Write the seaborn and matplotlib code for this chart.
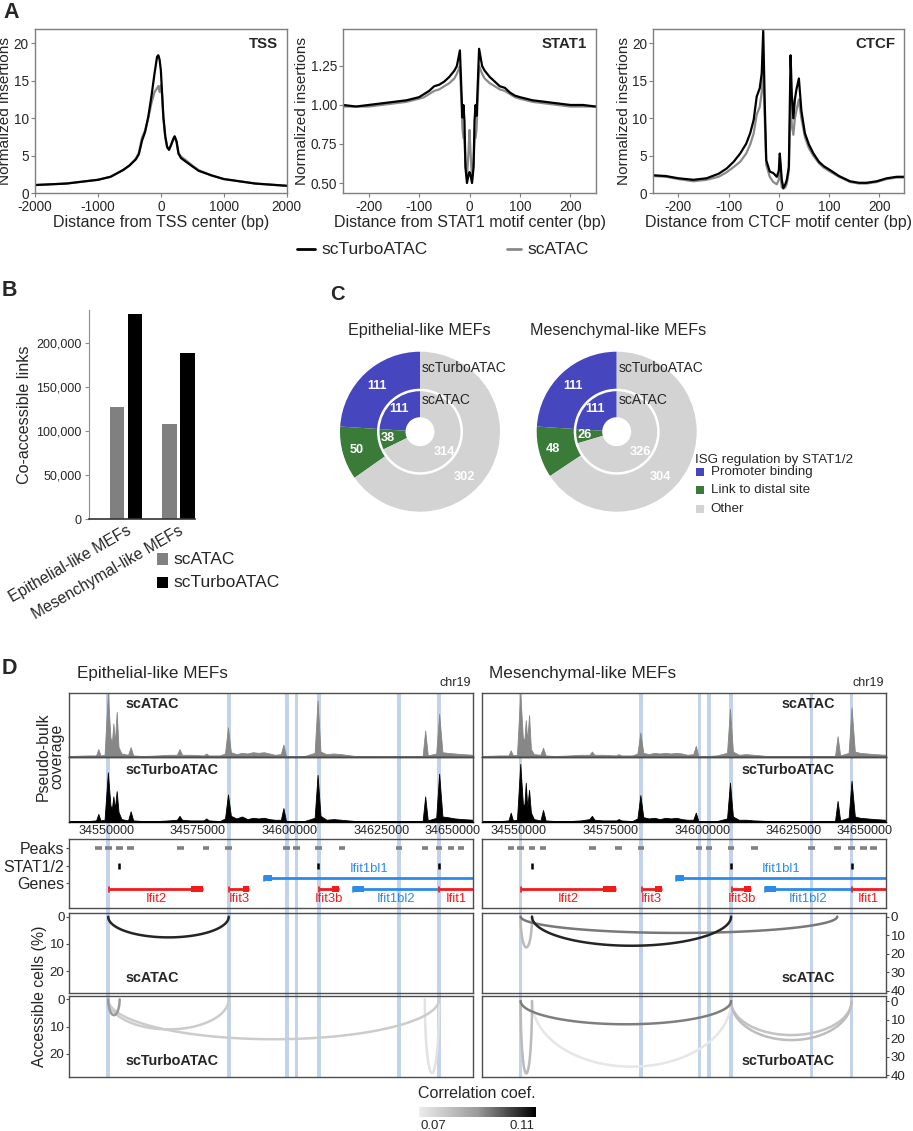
import numpy as np
import pandas as pd
import matplotlib
matplotlib.use('Agg')
import matplotlib.pyplot as plt
import seaborn as sns
from matplotlib.colors import LinearSegmentedColormap, Normalize
from matplotlib.cm import ScalarMappable
from matplotlib.lines import Line2D
from matplotlib.patches import Rectangle
from matplotlib.ticker import FuncFormatter
from matplotlib.transforms import offset_copy

# ---------------- data ----------------
# A: aggregate insertion profiles
tss_x = [-2000, -1500, -1000, -800, -600, -500, -400, -350, -300, -250,
         -200, -150, -100, -60, -40, -20, 0, 20, 40, 70,
         100, 130, 160, 200, 220, 250, 280, 320, 400, 500,
         600, 800, 1000, 1500, 2000]
tss_turbo = [1.1, 1.3, 1.8, 2.2, 3.1, 3.7, 4.5, 5.2, 7.0, 8.2,
             10.2, 12.9, 16.0, 18.2, 18.4, 17.8, 16.4, 13.3, 10.2, 7.6,
             6.2, 5.8, 6.4, 7.3, 7.6, 6.9, 5.3, 4.7, 4.2, 3.6,
             3.0, 2.4, 1.9, 1.3, 1.0]
tss_sc = [1.1, 1.3, 1.8, 2.2, 3.1, 3.7, 4.6, 5.4, 7.4, 8.4,
          10.0, 12.0, 13.5, 14.0, 14.3, 13.5, 14.4, 13.0, 10.0, 7.5,
          6.1, 5.8, 6.4, 7.2, 7.5, 6.8, 5.4, 4.9, 4.4, 3.7,
          3.1, 2.4, 1.9, 1.3, 1.0]

stat_x = [-250, -225, -200, -175, -150, -125, -100, -90, -80, -70,
          -60, -50, -40, -30, -25, -19, -14, -12, -10, -8,
          -5, -2, 0, 2, 5, 8, 10, 12, 14, 19,
          25, 30, 40, 50, 60, 70, 80, 90, 100, 125,
          150, 175, 200, 225, 250]
stat_turbo = [1.00, 0.99, 1.00, 1.01, 1.02, 1.03, 1.05, 1.07, 1.09, 1.12,
              1.13, 1.15, 1.18, 1.22, 1.25, 1.35, 0.92, 1.00, 0.90, 0.60,
              0.50, 0.55, 0.57, 0.55, 0.50, 0.60, 0.90, 1.00, 0.93, 1.36,
              1.25, 1.22, 1.18, 1.15, 1.12, 1.11, 1.08, 1.06, 1.05, 1.03,
              1.02, 1.01, 1.00, 1.00, 0.99]
stat_sc = [0.99, 0.99, 0.99, 1.00, 1.01, 1.02, 1.04, 1.05, 1.07, 1.09,
           1.10, 1.12, 1.14, 1.17, 1.20, 1.25, 0.85, 0.79, 0.78, 0.62,
           0.53, 0.70, 0.84, 0.70, 0.53, 0.62, 0.78, 0.79, 0.85, 1.25,
           1.20, 1.17, 1.14, 1.12, 1.10, 1.09, 1.07, 1.05, 1.04, 1.02,
           1.01, 1.00, 0.99, 0.99, 0.99]

ctcf_x = [-250, -225, -200, -170, -144, -120, -104, -90, -77, -65,
          -57, -50, -44, -38, -34, -31, -28, -25, -18, -11,
          -4, 0, 2, 4, 6, 9, 13, 16, 20, 23.5,
          26, 29, 32, 35, 40, 45, 52, 60, 69, 80,
          90, 102, 120, 142, 160, 175, 195, 215, 235, 250]
ctcf_turbo = [2.4, 2.3, 2.0, 1.8, 2.0, 2.6, 3.3, 4.2, 5.3, 6.6,
              8.0, 9.8, 12.9, 14.0, 16.0, 21.7, 12.0, 4.4, 2.9, 2.7,
              2.2, 3.0, 5.3, 3.5, 1.8, 0.7, 1.2, 1.8, 3.5, 18.4,
              13.0, 10.0, 12.5, 13.8, 15.3, 11.0, 8.0, 6.5, 5.3, 4.2,
              3.6, 3.1, 2.3, 1.6, 1.4, 1.4, 1.6, 2.0, 2.2, 2.2]
ctcf_sc = [2.3, 2.2, 1.9, 1.6, 1.8, 2.2, 2.8, 3.5, 4.2, 5.3,
           6.5, 8.0, 10.5, 11.5, 13.5, 16.2, 10.0, 3.8, 2.2, 1.5,
           1.2, 1.8, 4.8, 2.0, 0.8, 0.6, 0.8, 1.3, 3.0, 12.5,
           9.0, 7.8, 10.0, 11.0, 12.5, 10.0, 7.5, 6.0, 5.0, 4.0,
           3.4, 2.9, 2.2, 1.5, 1.3, 1.3, 1.5, 1.9, 2.1, 2.1]

# B: co-accessible links
b_groups = ['Epithelial-like MEFs', 'Mesenchymal-like MEFs']
b_sc = [127000, 108000]
b_turbo = [234000, 189000]

# C: ISG regulation (outer ring scTurboATAC, inner ring scATAC)
c_categories = ['Promoter binding', 'Link to distal site', 'Other']
c_colors = ['#4646BE', '#3A7B3A', '#D3D3D3']
epi_outer = [111, 50, 302]
epi_inner = [111, 38, 314]
mes_outer = [111, 48, 304]
mes_inner = [111, 26, 326]

# D: genome browser, positions in kb from chr19:34,540,000
ORIGIN = 34540000
cov_kb = [0, 5, 7.3, 7.9, 8.5, 9.6, 10.5, 11.2, 11.6, 12.0,
          12.4, 12.9, 13.4, 14.2, 16.0, 16.7, 17.4, 20, 24, 27,
          29.3, 30.0, 30.7, 33, 36.6, 37.3, 38.0, 41, 42.4, 43.2,
          44.0, 45.5, 47, 48.5, 50, 51.5, 53, 54.5, 56, 57.6,
          58.3, 59.0, 61, 64, 66.8, 67.6, 68.4, 70, 72, 74,
          78, 85, 92, 96.2, 96.9, 97.6, 99.9, 100.7, 101.6, 103,
          105, 107, 110]
epi_cov_sc = [0.01, 0.02, 0.02, 0.12, 0.02, 0.03, 0.99, 0.30, 0.22, 0.52,
              0.22, 0.70, 0.15, 0.05, 0.03, 0.15, 0.02, 0.01, 0.02, 0.03,
              0.03, 0.12, 0.03, 0.03, 0.02, 0.05, 0.02, 0.02, 0.05, 0.46,
              0.07, 0.04, 0.06, 0.05, 0.07, 0.06, 0.07, 0.05, 0.03, 0.04,
              0.19, 0.01, 0.01, 0.01, 0.06, 0.88, 0.08, 0.04, 0.05, 0.04,
              0.01, 0.01, 0.01, 0.01, 0.41, 0.02, 0.05, 0.67, 0.07, 0.06,
              0.05, 0.04, 0.03]
epi_cov_turbo = [0.01, 0.01, 0.02, 0.12, 0.02, 0.03, 0.76, 0.25, 0.20, 0.39,
                 0.20, 0.47, 0.15, 0.04, 0.02, 0.16, 0.02, 0.01, 0.01, 0.02,
                 0.03, 0.09, 0.03, 0.02, 0.02, 0.05, 0.02, 0.01, 0.05, 0.42,
                 0.09, 0.05, 0.08, 0.04, 0.06, 0.05, 0.06, 0.04, 0.03, 0.03,
                 0.21, 0.01, 0.01, 0.01, 0.06, 0.72, 0.09, 0.03, 0.04, 0.03,
                 0.01, 0.01, 0.01, 0.01, 0.39, 0.02, 0.06, 0.74, 0.08, 0.07,
                 0.05, 0.04, 0.03]
mes_cov_sc = [0.01, 0.02, 0.02, 0.10, 0.02, 0.03, 0.99, 0.30, 0.25, 0.57,
              0.25, 0.65, 0.12, 0.04, 0.03, 0.14, 0.02, 0.01, 0.02, 0.03,
              0.03, 0.08, 0.03, 0.03, 0.02, 0.04, 0.02, 0.02, 0.05, 0.38,
              0.06, 0.04, 0.06, 0.05, 0.06, 0.05, 0.06, 0.05, 0.03, 0.04,
              0.17, 0.01, 0.01, 0.02, 0.06, 0.75, 0.08, 0.03, 0.04, 0.03,
              0.01, 0.01, 0.01, 0.01, 0.32, 0.02, 0.06, 0.77, 0.08, 0.06,
              0.05, 0.04, 0.03]
mes_cov_turbo = [0.01, 0.01, 0.02, 0.14, 0.02, 0.03, 0.89, 0.28, 0.24, 0.60,
                 0.22, 0.49, 0.14, 0.04, 0.02, 0.18, 0.02, 0.01, 0.01, 0.02,
                 0.04, 0.09, 0.03, 0.02, 0.02, 0.04, 0.02, 0.01, 0.05, 0.41,
                 0.07, 0.05, 0.06, 0.04, 0.06, 0.05, 0.06, 0.04, 0.03, 0.03,
                 0.14, 0.01, 0.01, 0.01, 0.05, 0.60, 0.08, 0.03, 0.03, 0.02,
                 0.01, 0.01, 0.01, 0.01, 0.32, 0.02, 0.06, 0.63, 0.08, 0.06,
                 0.05, 0.04, 0.03]

highlight_kb = [10.6, 43.4, 59.3, 61.9, 67.9, 89.8, 100.7]
peak_kb = [8.0, 10.6, 13.7, 16.7, 30.2, 37.2, 43.4, 59.2, 61.9, 67.9,
           74.2, 89.8, 96.8, 100.7, 103.9, 106.6]
stat_kb = [13.6, 67.8, 100.7]

gene_names = ['Ifit2', 'Ifit3', 'Ifit3b', 'Ifit1bl2', 'Ifit1', 'Ifit1bl1']
gene_start = [10.8, 43.6, 68.1, 77.2, 100.7, 53.0]
gene_end = [36.5, 49.0, 73.4, 100.7, 118.0, 118.0]
gene_thick_start = [33.1, 47.2, 71.4, 77.2, 112.0, 53.0]
gene_thick_end = [36.5, 49.0, 73.4, 80.2, 118.0, 55.1]
gene_row = [1, 1, 1, 1, 1, 0]
gene_color = ['#F21B1B', '#F21B1B', '#F21B1B', '#2A8BEA', '#F21B1B', '#2A8BEA']

# co-accessibility arcs: start kb, end kb, accessible cells (%), correlation
epi_sc_arcs = dict(start=[10.6], end=[43.4], depth=[7.6], corr=[0.110])
epi_turbo_arcs = dict(start=[10.6, 10.6, 10.6, 96.8], end=[13.7, 43.4, 100.7, 100.7],
                      depth=[5.8, 11.0, 14.6, 27.0], corr=[0.090, 0.074, 0.074, 0.067])
mes_sc_arcs = dict(start=[10.6, 10.6, 13.7], end=[13.7, 96.8, 67.9],
                   depth=[16.6, 8.8, 15.7], corr=[0.080, 0.096, 0.110])
mes_turbo_arcs = dict(start=[10.6, 10.6, 13.7, 67.9, 67.9], end=[13.7, 67.9, 67.9, 100.7, 100.7],
                      depth=[38.9, 12.5, 35.3, 21.0, 18.3], corr=[0.080, 0.095, 0.066, 0.079, 0.077])

# ---------------- style / helpers ----------------
W, H = 913, 1131
sns.set_style('ticks')
plt.rcParams['font.family'] = ['Liberation Sans', 'DejaVu Sans']
plt.rcParams['axes.unicode_minus'] = False

GRAY_LINE = '#8a8a8a'
BOX = '#4d4d4d'
HILITE = '#C3D3EC'

fig = plt.figure(figsize=(W / 100, H / 100), dpi=100)


def px_axes(x0, y0, x1, y1, **kw):
    return fig.add_axes([x0 / W, 1 - y1 / H, (x1 - x0) / W, (y1 - y0) / H], **kw)


def ftext(x, y, s, **kw):
    return fig.text(x / W, 1 - y / H, s, **kw)


def fsquare(x, y, size, color):
    fig.add_artist(Rectangle((x / W, 1 - (y + size / 2) / H), size / W, size / H,
                             transform=fig.transFigure, color=color, lw=0))


# panel letters
ftext(3, 12, 'A', fontsize=15.5, fontweight='bold', va='center')
ftext(2, 291, 'B', fontsize=15.5, fontweight='bold', va='center')
ftext(330, 295, 'C', fontsize=14.5, fontweight='bold', va='center')
ftext(2, 668, 'D', fontsize=15.5, fontweight='bold', va='center')

# ---------------- Panel A ----------------
a_panels = [
    dict(x=tss_x, turbo=tss_turbo, sc=tss_sc, name='TSS', xlabel='Distance from TSS center (bp)',
         box=(35, 29, 286.7, 193.3), xlim=(-2000, 2000), ylim=(0, 21.9),
         xticks=[-2000, -1000, 0, 1000, 2000], yticks=[0, 5, 10, 15, 20], fmt='{:g}'),
    dict(x=stat_x, turbo=stat_turbo, sc=stat_sc, name='STAT1', xlabel='Distance from STAT1 motif center (bp)',
         box=(343.3, 29, 595.7, 193.3), xlim=(-250, 250), ylim=(0.434, 1.487),
         xticks=[-200, -100, 0, 100, 200], yticks=[0.5, 0.75, 1.0, 1.25], fmt='{:.2f}'),
    dict(x=ctcf_x, turbo=ctcf_turbo, sc=ctcf_sc, name='CTCF', xlabel='Distance from CTCF motif center (bp)',
         box=(653.3, 29, 904.3, 193.3), xlim=(-250, 250), ylim=(0, 21.9),
         xticks=[-200, -100, 0, 100, 200], yticks=[0, 5, 10, 15, 20], fmt='{:g}'),
]
for p in a_panels:
    ax = px_axes(*p['box'])
    n = len(p['x'])
    df = pd.DataFrame({'pos': list(p['x']) * 2,
                       'ins': list(p['sc']) + list(p['turbo']),
                       'method': ['scATAC'] * n + ['scTurboATAC'] * n})
    sns.lineplot(data=df, x='pos', y='ins', hue='method', hue_order=['scATAC', 'scTurboATAC'],
                 palette=[GRAY_LINE, 'black'], linewidth=1.6, estimator=None, legend=False, ax=ax)
    ax.set_xlim(p['xlim'])
    ax.set_ylim(p['ylim'])
    ax.set_xticks(p['xticks'])
    ax.set_yticks(p['yticks'])
    ax.set_yticklabels([p['fmt'].format(v) for v in p['yticks']])
    ax.set_xlabel(p['xlabel'], fontsize=11.5, labelpad=1)
    ax.set_ylabel('Normalized insertions', fontsize=11.1, labelpad=1)
    for s in ax.spines.values():
        s.set_color('#7f7f7f')
        s.set_linewidth(1)
    ax.tick_params(length=3, width=0.8, color='#7f7f7f', labelsize=9.8, pad=1.5)
    ftext(p['box'][2] - 9, 44.3, p['name'], ha='right', va='center', fontsize=10.8, fontweight='bold')

fig.add_artist(Line2D([297 / W, 315 / W], [1 - 249 / H] * 2, color='black', lw=2))
ftext(321, 249, 'scTurboATAC', fontsize=12.5, va='center')
fig.add_artist(Line2D([507 / W, 521 / W], [1 - 249 / H] * 2, color=GRAY_LINE, lw=2))
ftext(527, 249, 'scATAC', fontsize=12.5, va='center')

# ---------------- Panel B ----------------
axb = px_axes(88.7, 310, 195, 519)
dfb = pd.DataFrame({'cells': b_groups * 2,
                    'method': ['scATAC'] * len(b_groups) + ['scTurboATAC'] * len(b_groups),
                    'links': b_sc + b_turbo})
sns.barplot(data=dfb, x='cells', y='links', hue='method', hue_order=['scATAC', 'scTurboATAC'],
            palette=['#808080', 'black'], saturation=1, width=0.68, gap=0.2,
            errorbar=None, legend=False, linewidth=0, ax=axb)
axb.set_xlim(-0.71, 1.314)
axb.set_ylim(0, 238000)
axb.set_yticks([0, 50000, 100000, 150000, 200000])
axb.yaxis.set_major_formatter(FuncFormatter(lambda v, _: f'{int(v):,}'))
axb.set_xlabel('')
axb.set_ylabel('Co-accessible links', fontsize=11.6, labelpad=3)
axb.set_xticks(range(len(b_groups)))
axb.set_xticklabels(b_groups, rotation=30, ha='right', va='top', rotation_mode='anchor', fontsize=11.3)
sns.despine(ax=axb)
axb.spines['left'].set_color('#8c8c8c')
axb.spines['bottom'].set_color('#333333')
axb.spines['bottom'].set_linewidth(1.2)
axb.tick_params(axis='y', length=3, color='#8c8c8c', labelsize=9, pad=2)
axb.tick_params(axis='x', length=0, pad=3)

fsquare(156.7, 559, 11.6, '#808080')
ftext(173.3, 559, 'scATAC', fontsize=12.5, va='center')
fsquare(156.7, 582.5, 11.6, 'black')
ftext(173.3, 582.5, 'scTurboATAC', fontsize=12.5, va='center')

# ---------------- Panel C ----------------
c_panels = [(420, 431.7, epi_outer, epi_inner, 'Epithelial-like MEFs', 348.3),
            (616.7, 431.7, mes_outer, mes_inner, 'Mesenchymal-like MEFs', 530)]
for cx, cy, outer, inner, title, tx in c_panels:
    axc = px_axes(cx - 85, cy - 85, cx + 85, cy + 85)
    axc.pie(outer, radius=1.0, startangle=90, counterclock=True, colors=c_colors,
            wedgeprops=dict(width=0.4625, edgecolor='none', linewidth=0))
    axc.pie(inner, radius=0.506, startangle=90, counterclock=True, colors=c_colors,
            wedgeprops=dict(width=0.325, edgecolor='none', linewidth=0))
    axc.set_xlim(-85 / 80, 85 / 80)
    axc.set_ylim(-85 / 80, 85 / 80)
    axc.axis('off')
    for vals, r_lab, gray_ang in [(outer, 0.79, -46), (inner, 0.39, -40)]:
        tot = sum(vals)
        angs = [90 + 180 * vals[0] / tot, 90 + 360 * (vals[0] + vals[1] / 2) / tot, gray_ang]
        radii = [r_lab, r_lab * 1.04, r_lab]
        for v, a, rr in zip(vals, angs, radii):
            axc.text(rr * np.cos(np.radians(a)), rr * np.sin(np.radians(a)), str(v),
                     color='white', fontsize=9.2, fontweight='bold', ha='center', va='center')
    ftext(cx + 1.7, 367.7, 'scTurboATAC', fontsize=10, va='center')
    ftext(cx + 1.7, 400, 'scATAC', fontsize=10, va='center')
    ftext(tx, 330, title, fontsize=11.6, va='center')

ftext(695, 460, 'ISG regulation by STAT1/2', fontsize=9.6, va='center')
for lab, col, yy in zip(c_categories, c_colors, [472, 490.3, 508.7]):
    fsquare(695.7, yy, 8, col)
    ftext(710.7, yy, lab, fontsize=9.6, va='center')

# ---------------- Panel D ----------------
D_XLIM = (0, 110)
cmap = LinearSegmentedColormap.from_list('corr', ['#ececec', '#9a9a9a', '#000000'])
norm = Normalize(0.0638, 0.1164)

d_panels = [
    dict(x0=69.3, x1=473.3, title='Epithelial-like MEFs', cov_sc=epi_cov_sc, cov_turbo=epi_cov_turbo,
         arcs=[epi_sc_arcs, epi_turbo_arcs], ylims=[(28, -1.5), (28.3, -1.2)], yticks=[0, 10, 20],
         side='left'),
    dict(x0=481.7, x1=885.7, title='Mesenchymal-like MEFs', cov_sc=mes_cov_sc, cov_turbo=mes_cov_turbo,
         arcs=[mes_sc_arcs, mes_turbo_arcs], ylims=[(41, -2.1), (40.7, -2.7)], yticks=[0, 10, 20, 30, 40],
         side='right'),
]

for dp in d_panels:
    x0, x1 = dp['x0'], dp['x1']
    left = dp['side'] == 'left'

    # highlighted peaks, behind every track
    bg = px_axes(x0, 692.7, x1, 1076.7)
    bg.set_xlim(D_XLIM)
    bg.set_ylim(0, 1)
    bg.axis('off')
    for hk in highlight_kb:
        bg.axvspan(hk - 0.5, hk + 0.5, color=HILITE, lw=0)

    ftext(x0 + 7.7, 673.3, dp['title'], fontsize=12.3, va='center')
    ftext(x1 - 2, 683.3, 'chr19', fontsize=9, ha='right', va='center')

    # coverage
    for (ya, yb), vals, col, name, ty in [((692.7, 756.7), dp['cov_sc'], '#878787', 'scATAC', 704),
                                          ((756.7, 821.7), dp['cov_turbo'], 'black', 'scTurboATAC', 770)]:
        axc = px_axes(x0, ya, x1, yb, facecolor='none')
        axc.fill_between(cov_kb, vals, color=col, lw=0.6, edgecolor=col)
        axc.set_xlim(D_XLIM)
        axc.set_ylim(0, 1.0)
        axc.set_xticks([])
        axc.set_yticks([])
        for s in axc.spines.values():
            s.set_color(BOX)
            s.set_linewidth(1)
        axc.spines['bottom'].set_color('black')
        if left:
            ftext(126, ty, name, fontsize=10.4, fontweight='bold', va='center')
        else:
            ftext(835, ty, name, fontsize=10.4, fontweight='bold', va='center', ha='right')
    for k in [10, 35, 60, 85, 110]:
        last = k == 110
        tr = offset_copy(axc.get_xaxis_transform(), fig=fig, x=7 if last else 0, y=-3, units='dots')
        axc.text(k, 0, f'{ORIGIN + int(round(k * 1000))}', transform=tr, fontsize=9.1,
                 ha='right' if last else 'center', va='top')

    # peaks / STAT1/2 / genes
    axg = px_axes(x0, 839.3, x1, 908, facecolor='none')
    axg.set_xlim(D_XLIM)
    axg.set_ylim(68.7, 0)
    axg.set_xticks([])
    for s in axg.spines.values():
        s.set_color(BOX)
        s.set_linewidth(1)
    if left:
        axg.set_yticks([8.4, 26.7, 43.4])
        axg.set_yticklabels(['Peaks', 'STAT1/2', 'Genes'])
        axg.tick_params(axis='y', length=2.5, color=BOX, labelsize=11.5, pad=1)
    else:
        axg.set_yticks([])
    for pk in peak_kb:
        axg.plot([pk - 0.9, pk + 0.9], [8.4, 8.4], color='#808080', lw=2.6, solid_capstyle='butt')
    for sk in stat_kb:
        axg.plot([sk, sk], [23.7, 29.7], color='black', lw=1.8, solid_capstyle='butt')
    for name, gs, ge, ts, te, row, col in zip(gene_names, gene_start, gene_end, gene_thick_start,
                                              gene_thick_end, gene_row, gene_color):
        gy = 39.0 if row == 0 else 50.0
        axg.plot([gs, ge], [gy, gy], color=col, lw=2, solid_capstyle='butt')
        axg.add_patch(Rectangle((ts, gy - 3), te - ts, 6, color=col, lw=0))
        axg.plot([gs, gs], [gy - 2.5, gy + 2.5], color=col, lw=1.2)
        vs, ve = max(gs, D_XLIM[0]), min(ge, D_XLIM[1])
        ly = 30.0 if row == 0 else 59.7
        axg.text((vs + ve) / 2, ly, name, color=col, fontsize=9.4, ha='center', va='center', clip_on=True)

    # co-accessibility arcs
    t = np.linspace(0, np.pi, 120)
    for (ya, yb), arcs, ylim, name, ty in zip([(912.7, 992.7), (996, 1076.7)], dp['arcs'], dp['ylims'],
                                               ['scATAC', 'scTurboATAC'], [977.7, 1061]):
        axa = px_axes(x0, ya, x1, yb, facecolor='none')
        axa.set_xlim(D_XLIM)
        axa.set_ylim(*ylim)
        axa.set_xticks([])
        axa.set_yticks(dp['yticks'])
        if left:
            axa.yaxis.tick_left()
        else:
            axa.yaxis.tick_right()
        axa.tick_params(axis='y', length=2.5, color=BOX, labelsize=9.6, pad=1)
        for s in axa.spines.values():
            s.set_color(BOX)
            s.set_linewidth(1)
        for i in np.argsort(arcs['corr']):
            c = (arcs['start'][i] + arcs['end'][i]) / 2
            r = (arcs['end'][i] - arcs['start'][i]) / 2
            axa.plot(c + r * np.cos(t), arcs['depth'][i] * np.sin(t),
                     color=cmap(norm(arcs['corr'][i])), lw=1.8)
        if left:
            ftext(126, ty, name, fontsize=10.4, fontweight='bold', va='center')
        else:
            ftext(835, ty, name, fontsize=10.4, fontweight='bold', va='center', ha='right')

ftext(50, 756.7, 'Pseudo-bulk\ncoverage', fontsize=11.4, rotation=90, ha='center', va='center',
      linespacing=0.95)
ftext(39.3, 996.7, 'Accessible cells (%)', fontsize=11.4, rotation=90, ha='center', va='center')

# colorbar
cax = px_axes(419.3, 1106.7, 536, 1117.3)
cb = fig.colorbar(ScalarMappable(norm=norm, cmap=cmap), cax=cax, orientation='horizontal',
                  ticks=[0.07, 0.11])
cb.outline.set_visible(False)
cb.ax.set_xticklabels(['0.07', '0.11'])
cb.ax.tick_params(direction='in', length=4, width=1, color='white', labelsize=9.5, pad=2)
ftext(477, 1093, 'Correlation coef.', fontsize=11.5, ha='center', va='center')

fig.savefig('out.png', dpi=100)
